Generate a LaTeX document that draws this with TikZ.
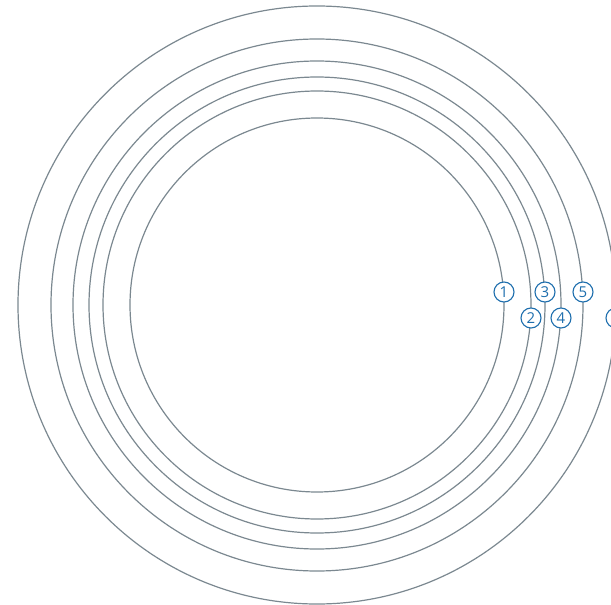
\documentclass[tikz,border=0pt]{standalone}
\usepackage{fontspec}
\setsansfont{Open Sans}
\usetikzlibrary{positioning}
\definecolor{ringgrey}{HTML}{7B8890}
\definecolor{tagblue}{HTML}{1F6FAE}

\begin{document}
\begin{tikzpicture}[x=1pt,y=-1pt,
    ring/.style={ringgrey,line width=1.2pt},
    tag/.style={circle,draw=tagblue,text=tagblue,fill=white,line width=1.1pt,
      minimum size=20pt,inner sep=0pt,font=\sffamily\fontsize{15}{15}\selectfont}]
    \useasboundingbox (0,0) rectangle (611,605);
    \clip (0,0) rectangle (611,605);
    \coordinate (c) at (317,305);
    % rings, inner to outer
    \foreach \r in {187,214,228,244,266,299}
      \draw[ring] (c) circle[radius=\r pt];
    % numbered tags sitting on the right side of each ring
    \foreach \r/\n/\dy in {187/1/-13,214/2/13,228/3/-13,244/4/13,266/5/-13,299/6/13}
      \node[tag] (tag\n) at ([shift={(\r,\dy)}]c) {\n};
\end{tikzpicture}
\end{document}
